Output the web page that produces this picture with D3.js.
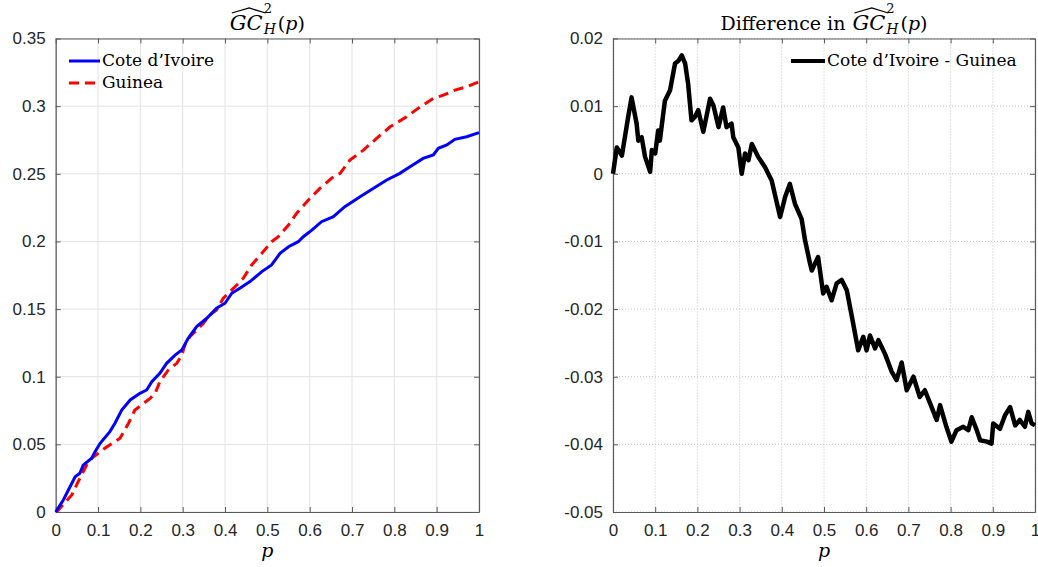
<!DOCTYPE html>
<html>
<head>
<meta charset="utf-8">
<script src="https://cdn.jsdelivr.net/npm/d3@7"></script>
<style>
body{margin:0;background:#fff;}
</style>
</head>
<body>
<div id="canvas"></div>
<script>
// values (p, GC_H^2(p))
var civP = [0,0.018,0.03,0.046,0.057,0.065,0.085,0.093,0.105,0.128,0.14,0.156,0.176,0.199,0.215,0.227,0.246,0.262,0.282,0.298,0.313,0.333,0.357,0.38,0.4,0.416,0.435,0.459,0.487,0.51,0.53,0.55,0.573,0.585,0.605,0.628,0.656,0.683,0.719,0.75,0.782,0.813,0.837,0.868,0.892,0.904,0.924,0.943,0.971,1.0];
var civV = [0,0.0089,0.0163,0.026,0.0286,0.0347,0.0397,0.0446,0.0508,0.0594,0.0656,0.0754,0.0828,0.0877,0.0902,0.0963,0.1025,0.1099,0.116,0.1197,0.1284,0.137,0.1432,0.1506,0.1543,0.1617,0.1654,0.1703,0.1777,0.1826,0.1912,0.1961,0.1998,0.2035,0.2084,0.2146,0.2183,0.2257,0.2331,0.2392,0.2454,0.2503,0.2552,0.2614,0.2639,0.2688,0.2713,0.2755,0.2774,0.2804];
var guiP = [0,0.005,0.038,0.053,0.073,0.085,0.105,0.116,0.14,0.152,0.172,0.187,0.203,0.223,0.235,0.246,0.266,0.286,0.298,0.305,0.317,0.333,0.349,0.364,0.38,0.396,0.412,0.428,0.443,0.463,0.487,0.51,0.526,0.55,0.569,0.597,0.624,0.656,0.672,0.695,0.727,0.758,0.79,0.829,0.861,0.892,0.916,0.943,0.971,1.0];
var guiV = [0,0.001,0.0126,0.0224,0.0347,0.0397,0.0446,0.0471,0.052,0.0545,0.0656,0.0754,0.0791,0.084,0.0877,0.0963,0.105,0.1099,0.116,0.1234,0.1296,0.1345,0.1395,0.1456,0.1493,0.158,0.1629,0.1678,0.1727,0.1826,0.1912,0.1998,0.2035,0.2121,0.2207,0.2306,0.2392,0.2478,0.2503,0.2601,0.2675,0.2761,0.2847,0.2921,0.2995,0.3057,0.3081,0.3118,0.3143,0.318];
// difference Cote d'Ivoire - Guinea
var diffP = [0,0.009,0.021,0.036,0.044,0.056,0.06,0.068,0.076,0.088,0.092,0.1,0.107,0.111,0.123,0.135,0.147,0.155,0.163,0.171,0.178,0.186,0.194,0.202,0.214,0.23,0.238,0.25,0.261,0.269,0.281,0.285,0.297,0.305,0.313,0.321,0.329,0.344,0.36,0.376,0.396,0.408,0.419,0.431,0.447,0.455,0.467,0.471,0.486,0.498,0.506,0.518,0.53,0.542,0.554,0.569,0.581,0.593,0.601,0.609,0.621,0.629,0.645,0.66,0.672,0.684,0.696,0.712,0.727,0.739,0.755,0.767,0.775,0.79,0.802,0.814,0.83,0.842,0.85,0.862,0.87,0.886,0.897,0.901,0.917,0.929,0.941,0.953,0.964,0.976,0.984,0.992,1.0];
var diffV = [0,0.0039,0.0027,0.0084,0.0113,0.0074,0.0049,0.0054,0.0025,0.0003,0.0035,0.003,0.0064,0.0049,0.0108,0.0123,0.0163,0.0167,0.0175,0.0163,0.0133,0.0079,0.0084,0.0094,0.0062,0.0111,0.0101,0.0069,0.0098,0.0069,0.0074,0.0054,0.0039,0.0,0.003,0.002,0.0044,0.0025,0.001,-0.001,-0.0064,-0.0034,-0.0015,-0.0044,-0.0067,-0.0098,-0.0133,-0.0143,-0.0123,-0.0177,-0.0167,-0.0187,-0.0162,-0.0157,-0.0172,-0.0221,-0.0261,-0.0241,-0.0261,-0.0239,-0.0258,-0.0246,-0.0267,-0.0292,-0.0305,-0.0279,-0.032,-0.030,-0.033,-0.032,-0.0345,-0.0364,-0.0342,-0.0374,-0.0396,-0.0379,-0.0374,-0.0379,-0.036,-0.0379,-0.0394,-0.0396,-0.0399,-0.0369,-0.0377,-0.0357,-0.0345,-0.0372,-0.0364,-0.0374,-0.0352,-0.0369,-0.0372];

var xTicks = [0,0.1,0.2,0.3,0.4,0.5,0.6,0.7,0.8,0.9,1];
var xTickLabels = ["0","0.1","0.2","0.3","0.4","0.5","0.6","0.7","0.8","0.9","1"];
var leftYTicks = [0,0.05,0.1,0.15,0.2,0.25,0.3,0.35];
var leftYTickLabels = ["0","0.05","0.1","0.15","0.2","0.25","0.3","0.35"];
var rightYTicks = [-0.05,-0.04,-0.03,-0.02,-0.01,0,0.01,0.02];
var rightYTickLabels = ["-0.05","-0.04","-0.03","-0.02","-0.01","0","0.01","0.02"];

var serif = "'DejaVu Serif', serif";
var sans = "'Liberation Sans', Arial, sans-serif";

draw();

function draw(){
	var w = 1038, h = 567;
	var svg = d3.select("#canvas").append("svg")
				.attr("width", w)
				.attr("height", h)
				.style("background-color", "white");

	var top = 38.5, bottom = 512;

	// left panel
	var xL = d3.scaleLinear().domain([0,1]).range([55.7,479]);
	var yL = d3.scaleLinear().domain([0,0.35]).range([bottom,top]);
	panel(svg, xL, yL, leftYTicks, leftYTickLabels, false);

	var line = d3.line()
		.x(function(d){ return xL(d[0]); })
		.y(function(d){ return yL(d[1]); });

	svg.append("path")
		.datum(d3.zip(guiP, guiV))
		.attr("d", line)
		.attr("fill", "none")
		.attr("stroke", "#ff0000")
		.attr("stroke-width", 3)
		.attr("stroke-dasharray", "10,6");
	svg.append("path")
		.datum(d3.zip(civP, civV))
		.attr("d", line)
		.attr("fill", "none")
		.attr("stroke", "#0000ff")
		.attr("stroke-width", 3);

	// right panel
	var xR = d3.scaleLinear().domain([0,1]).range([613,1035]);
	var yR = d3.scaleLinear().domain([-0.05,0.02]).range([bottom,top]);
	panel(svg, xR, yR, rightYTicks, rightYTickLabels, true);

	var line2 = d3.line()
		.x(function(d){ return xR(d[0]); })
		.y(function(d){ return yR(d[1]); });
	svg.append("path")
		.datum(d3.zip(diffP, diffV))
		.attr("d", line2)
		.attr("fill", "none")
		.attr("stroke", "#000")
		.attr("stroke-width", 4.5)
		.attr("stroke-linejoin", "round");

	// legends
	legendItem(svg, 69, 100, 61, "#0000ff", null, "Cote d\u2019Ivoire", 3);
	legendItem(svg, 69, 100, 83, "#ff0000", "10,6", "Guinea", 3);
	legendItem(svg, 791, 825, 61, "#000", null, "Cote d\u2019Ivoire - Guinea", 4);

	// titles
	mathTitle(svg, (xL.range()[0]+xL.range()[1])/2, 30, "");
	mathTitle(svg, (xR.range()[0]+xR.range()[1])/2, 30, "Difference in");

	// x labels
	[xL, xR].forEach(function(s){
		svg.append("text")
			.attr("x", (s.range()[0]+s.range()[1])/2)
			.attr("y", 557)
			.attr("text-anchor", "middle")
			.style("font-family", serif)
			.style("font-style", "italic")
			.style("font-size", "19px")
			.text("p");
	});
}

function panel(svg, x, y, yTicks, yLabels, dotted){
	var g = svg.append("g");
	var x0 = x.range()[0], x1 = x.range()[1];
	var y0 = y.range()[1], y1 = y.range()[0];

	// grid
	g.selectAll(".gx").data(xTicks).join("line")
		.attr("x1", function(d){ return x(d); })
		.attr("x2", function(d){ return x(d); })
		.attr("y1", y0).attr("y2", y1)
		.attr("stroke", dotted ? "#c4c4c4" : "#e3e3e3")
		.attr("stroke-width", 1)
		.attr("stroke-dasharray", dotted ? "1,2" : null);
	g.selectAll(".gy").data(yTicks).join("line")
		.attr("y1", function(d){ return y(d); })
		.attr("y2", function(d){ return y(d); })
		.attr("x1", x0).attr("x2", x1)
		.attr("stroke", dotted ? "#c4c4c4" : "#e3e3e3")
		.attr("stroke-width", 1)
		.attr("stroke-dasharray", dotted ? "1,2" : null);

	var axB = d3.axisBottom(x).tickValues(xTicks)
		.tickFormat(function(d,i){ return xTickLabels[i]; })
		.tickSizeInner(-5).tickSizeOuter(0).tickPadding(12);
	var axT = d3.axisTop(x).tickValues(xTicks).tickFormat("")
		.tickSizeInner(-5).tickSizeOuter(0);
	var axLft = d3.axisLeft(y).tickValues(yTicks)
		.tickFormat(function(d,i){ return yLabels[i]; })
		.tickSizeInner(-5).tickSizeOuter(0).tickPadding(10);
	var axRgt = d3.axisRight(y).tickValues(yTicks).tickFormat("")
		.tickSizeInner(-5).tickSizeOuter(0);

	var gb = svg.append("g").attr("transform", "translate(0," + y1 + ")").call(axB);
	var gt = svg.append("g").attr("transform", "translate(0," + y0 + ")").call(axT);
	var gl = svg.append("g").attr("transform", "translate(" + x0 + ",0)").call(axLft);
	var gr = svg.append("g").attr("transform", "translate(" + x1 + ",0)").call(axRgt);

	[gb, gt, gl, gr].forEach(function(a){
		a.select(".domain").attr("stroke", "#5a5a5a").attr("stroke-width", 1.2);
		a.selectAll(".tick line").attr("stroke", "#5a5a5a").attr("stroke-width", 1);
		a.selectAll(".tick text")
			.attr("fill", "#262626")
			.style("font-family", sans)
			.style("font-size", "17px");
	});
}

function legendItem(svg, xa, xb, yy, color, dash, label, sw){
	svg.append("line")
		.attr("x1", xa).attr("x2", xb)
		.attr("y1", yy).attr("y2", yy)
		.attr("stroke", color)
		.attr("stroke-width", sw)
		.attr("stroke-dasharray", dash);
	svg.append("text")
		.attr("x", xb + 2)
		.attr("y", yy + 5)
		.style("font-family", serif)
		.style("font-size", "17px")
		.attr("fill", "#000")
		.text(label);
}

// title: prefix + widehat{GC}^2_H(p)
function mathTitle(svg, cx, base, prefix){
	var g = svg.append("g");
	var cur = 0;
	function piece(str, size, italic, dy){
		var t = g.append("text")
			.attr("x", cur)
			.attr("y", base + (dy || 0))
			.style("font-family", serif)
			.style("font-size", size + "px")
			.style("font-style", italic ? "italic" : "normal")
			.attr("fill", "#000")
			.text(str);
		return t.node().getComputedTextLength();
	}
	if (prefix) cur += piece(prefix, 19, false) + 7;
	var gcStart = cur;
	var gcW = piece("GC", 21, true);
	// wide hat over GC
	g.append("path")
		.attr("d", "M" + (gcStart + 2) + "," + (base - 17) +
			" L" + (gcStart + gcW/2 + 3) + "," + (base - 22) +
			" L" + (gcStart + gcW + 3) + "," + (base - 17))
		.attr("fill", "none")
		.attr("stroke", "#000")
		.attr("stroke-width", 1.3);
	cur += gcW + 1;
	var supW = piece("2", 13, false, -17);
	var subW = piece("H", 14, true, 4);
	cur += Math.max(supW, subW) + 2;
	cur += piece("(", 19, false);
	cur += piece("p", 19, true);
	cur += piece(")", 19, false);
	g.attr("transform", "translate(" + (cx - cur/2) + ",0)");
}
</script>
</body>
</html>
